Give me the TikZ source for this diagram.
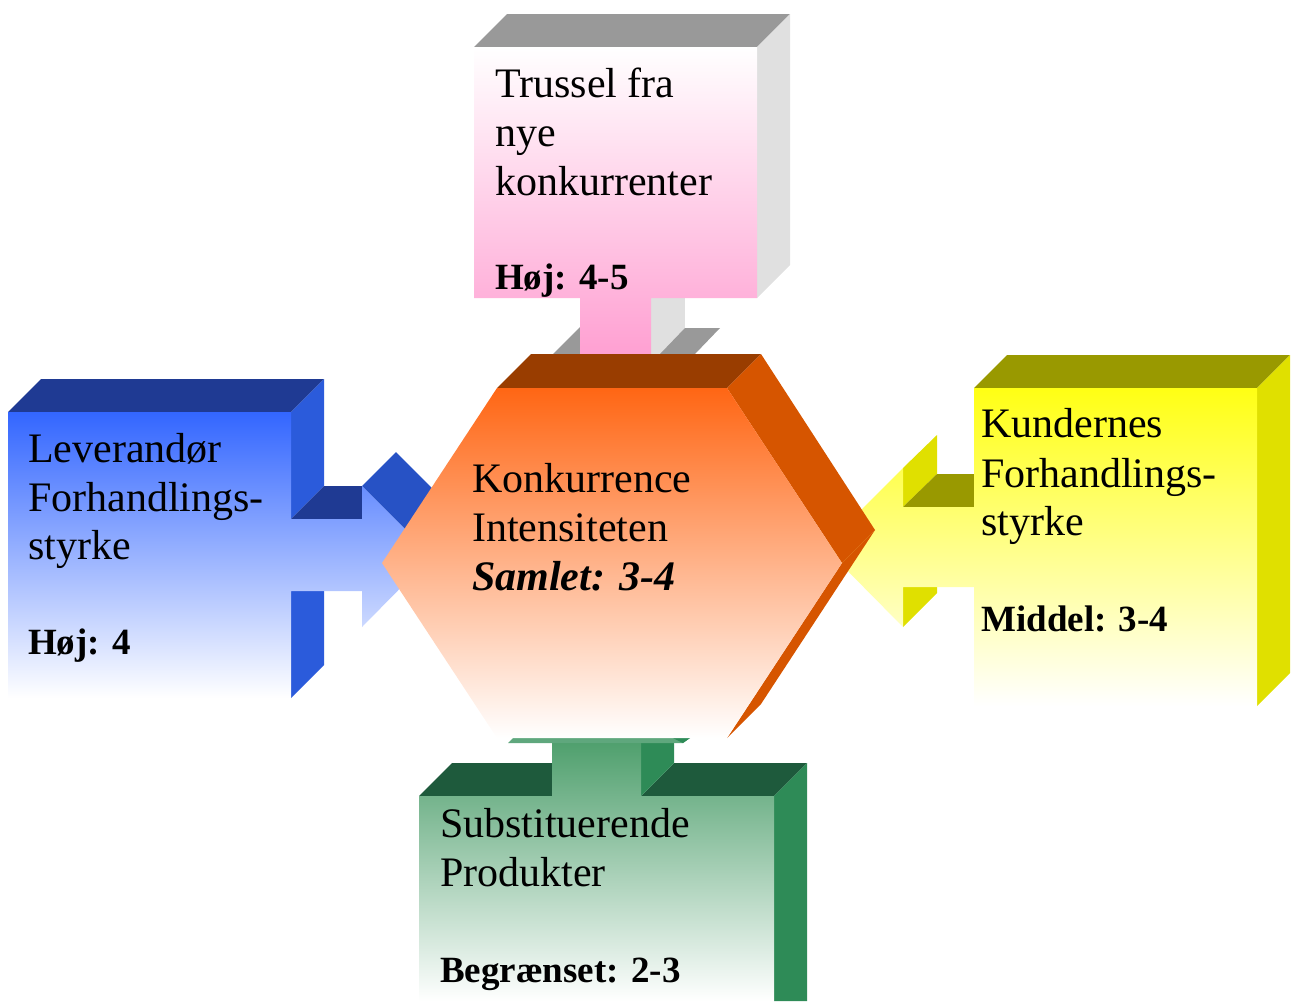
\documentclass[tikz,border=0pt]{standalone}
\usepackage{fontspec}
\setmainfont{Liberation Serif}
\definecolor{hexTop}{RGB}{153,61,0}
\definecolor{hexSide}{RGB}{214,85,0}
\definecolor{hexFront}{RGB}{255,102,20}
\definecolor{hexMid}{RGB}{255,206,194}
\definecolor{pinkTop}{RGB}{153,153,153}
\definecolor{pinkSide}{RGB}{224,224,224}
\definecolor{pinkFront}{RGB}{255,160,210}
\definecolor{blueTop}{RGB}{31,58,147}
\definecolor{blueSide}{RGB}{43,91,219}
\definecolor{blueFront}{RGB}{51,102,255}
\definecolor{yelTop}{RGB}{153,153,0}
\definecolor{yelSide}{RGB}{224,224,0}
\definecolor{yelFront}{RGB}{255,255,20}
\definecolor{grnTop}{RGB}{30,90,60}
\definecolor{grnSide}{RGB}{46,139,87}
\definecolor{grnFront}{RGB}{80,160,110}
\definecolor{grnBar}{RGB}{95,167,125}
\begin{document}
\begin{tikzpicture}[x=1pt,y=-1pt,
  lbl/.style={anchor=base west, inner sep=0pt, font=\fontsize{42}{49}\selectfont},
  val/.style={anchor=base west, inner sep=0pt, font=\fontsize{37}{44}\selectfont\bfseries}]
\useasboundingbox (0,0) rectangle (1292,1001);

% ---------- Pink (top) ----------
\fill[pinkTop] (474,47) -- (507,14) -- (790,14) -- (757,47) -- cycle;
\fill[pinkSide] (757,47) -- (790,14) -- (790,265) -- (757,298) -- cycle;
\fill[pinkSide] (651,298) -- (685,298) -- (685,354) -- (651,354) -- cycle;
\fill[pinkTop] (553,354) -- (580,327) -- (580,354) -- cycle;
\fill[pinkTop] (660,354) -- (685,328) -- (720,328) -- (695,354) -- cycle;
\shade[top color=white, bottom color=pinkFront]
  (474,47) -- (757,47) -- (757,298) -- (651,298) -- (651,354) -- (580,354) -- (580,298) -- (474,298) -- cycle;

% ---------- Blue (left) ----------
\fill[blueTop] (8,412) -- (41,379) -- (324,379) -- (291,412) -- cycle;
\fill[blueSide] (291,412) -- (324,379) -- (324,486) -- (291,519) -- cycle;
\fill[blueTop] (291,519) -- (324,486) -- (362,486) -- (362,519) -- cycle;
\fill[blueSide] (291,591) -- (324,591) -- (324,665) -- (291,698) -- cycle;
\fill[blueSide!90!black] (362,486) -- (396,452) -- (466,522) -- (432,556) -- cycle;
\shade[top color=blueFront, bottom color=white]
  (8,412) -- (291,412) -- (291,519) -- (362,519) -- (362,486) -- (432,556) -- (362,627) -- (362,591) -- (291,591) -- (291,698) -- (8,698) -- cycle;

% ---------- Yellow (right) ----------
\fill[yelTop] (974,388) -- (1007,355) -- (1290,355) -- (1257,388) -- cycle;
\fill[yelSide] (1257,388) -- (1290,355) -- (1290,673) -- (1257,706) -- cycle;
\fill[yelSide] (903,468) -- (937,435) -- (937,474) -- (903,507) -- cycle;
\fill[yelTop] (903,507) -- (937,474) -- (974,474) -- (974,507) -- cycle;
\fill[yelSide] (903,587) -- (937,587) -- (937,593) -- (903,627) -- cycle;
\shade[top color=yelFront, bottom color=white]
  (974,388) -- (1257,388) -- (1257,706) -- (974,706) -- (974,587) -- (903,587) -- (903,627) -- (824,547) -- (903,468) -- (903,507) -- (974,507) -- cycle;

% ---------- Green (bottom) ----------
\fill[grnTop] (419,796) -- (452,763) -- (552,763) -- (552,796) -- cycle;
\fill[grnTop] (641,796) -- (674,763) -- (807,763) -- (774,796) -- cycle;
\fill[grnSide] (774,796) -- (807,763) -- (807,1001) -- (774,1001) -- cycle;
\fill[grnSide] (641,743) -- (674,743) -- (674,763) -- (641,796) -- cycle;
\shade[top color=grnFront, bottom color=white]
  (419,1001) -- (419,796) -- (552,796) -- (552,743) -- (641,743) -- (641,796) -- (774,796) -- (774,1001) -- cycle;
\fill[grnBar] (508,743) -- (513,738) -- (690,738) -- (683,743) -- cycle;
\fill[grnSide] (673,738) -- (690,738) -- (683,743) -- cycle;

% ---------- Hexagon (centre) ----------
\fill[hexTop] (497,388) -- (531,354) -- (761,354) -- (727,388) -- cycle;
\fill[hexSide] (727,388) -- (761,354) -- (875,530) -- (842,563) -- cycle;
\fill[hexSide] (842,563) -- (875,530) -- (761,704) -- (727,738) -- cycle;
\shade[top color=hexFront, middle color=hexMid, bottom color=white]
  (497,388) -- (727,388) -- (842,563) -- (727,738) -- (497,738) -- (382,563) -- cycle;

% ---------- Texts ----------
\node[lbl] (p1) at (495,97) {Trussel fra};
\node[lbl] (p2) at (495,146) {nye};
\node[lbl] (p3) at (495,195) {konkurrenter};
\node[val] (p4) at (495,289) {Høj: 4-5};

\node[lbl] (b1) at (28,462) {Leverandør};
\node[lbl] (b2) at (28,511) {Forhandlings-};
\node[lbl] (b3) at (28,559) {styrke};
\node[val] (b4) at (28,654) {Høj: 4};

\node[lbl] (h1) at (472,492) {Konkurrence};
\node[lbl] (h2) at (472,541) {Intensiteten};
\node[lbl, font=\fontsize{42}{49}\selectfont\bfseries\itshape] (h3) at (472,590) {Samlet: 3-4};

\node[lbl] (y1) at (981,437) {Kundernes};
\node[lbl] (y2) at (981,487) {Forhandlings-};
\node[lbl] (y3) at (981,535) {styrke};
\node[val] (y4) at (981,631) {Middel: 3-4};

\node[lbl] (g1) at (440,837) {Substituerende};
\node[lbl] (g2) at (440,886) {Produkter};
\node[val] (g3) at (440,982) {Begrænset: 2-3};
\end{tikzpicture}
\end{document}
